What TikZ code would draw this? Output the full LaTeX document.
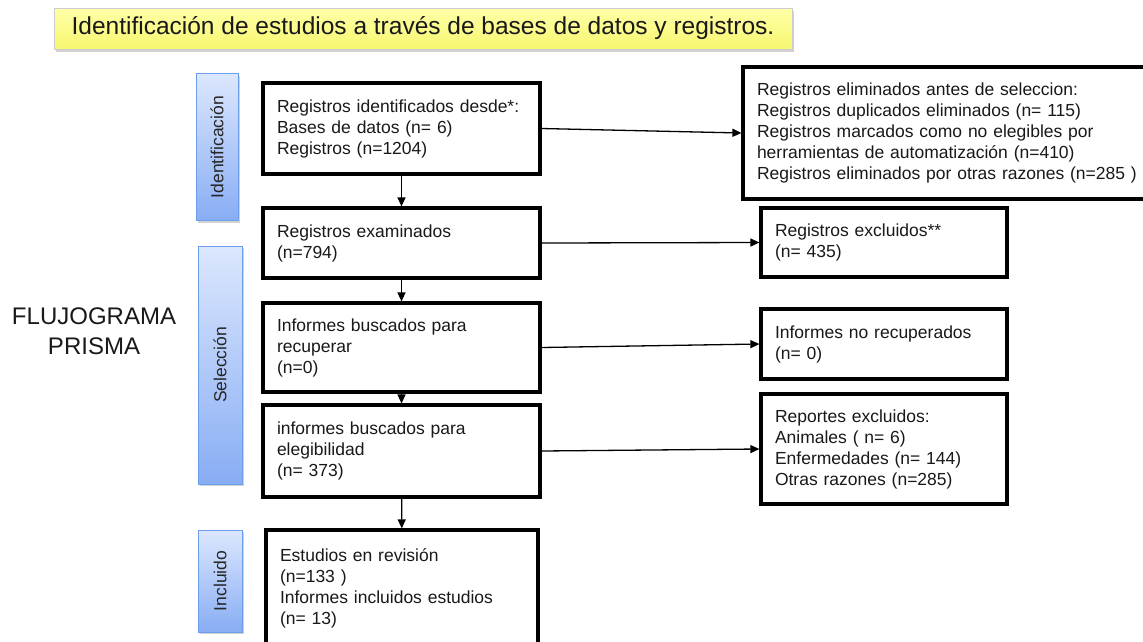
\documentclass[tikz,border=0pt]{standalone}
\usepackage{fontspec}
\setmainfont{Liberation Sans}
\usetikzlibrary{arrows.meta,shadows}
\definecolor{barfill1}{HTML}{DCE7FD}
\definecolor{barfill2}{HTML}{88ADF4}
\definecolor{barline}{HTML}{6D9EEB}
\definecolor{ban1}{HTML}{FFFFA8}
\definecolor{ban2}{HTML}{F7F770}
\tikzset{
  mainbox/.style={draw=black, line width=3.2pt, fill=white, inner xsep=14pt, inner ysep=4pt,
    align=left, font=\fontsize{17.5}{21}\selectfont, text width=#1, minimum height=10pt,
    text=black!90},
  sidebar/.style={draw=barline, line width=1pt, top color=barfill1, bottom color=barfill2,
    drop shadow={shadow xshift=1.5pt, shadow yshift=-2pt, opacity=0.35},
    font=\fontsize{17.5}{21}\selectfont, text=black!85},
  arr/.style={draw=black, line width=1.3pt, -{Triangle[length=9pt,width=8pt]}},
}
\begin{document}
\begin{tikzpicture}[x=1pt,y=-1pt]
\useasboundingbox[fill=white] (0,0) rectangle (1143,641);
% banner
\node[draw=black!20, line width=0.6pt, top color=ban1, bottom color=ban2,
  drop shadow={shadow xshift=2pt, shadow yshift=-2.5pt, opacity=0.35},
  minimum width=738pt, minimum height=41pt, inner sep=0pt,
  font=\fontsize{24.5}{28}\selectfont, text=black!90] (banner) at (423,28.5)
  {Identificación de estudios a través de bases de datos y registros.};
% title
\node[align=center, font=\fontsize{24}{29.5}\selectfont, text=black!90] (title) at (94,331)
  {FLUJOGRAMA\\PRISMA};
% side bars
\node[sidebar, minimum width=42pt, minimum height=147pt, inner sep=0pt] (s1) at (217,147)
  {\rotatebox{90}{Identificación}};
\node[sidebar, minimum width=44pt, minimum height=238pt, inner sep=0pt] (s2) at (220,365)
  {\rotatebox{90}{Selección}};
\node[sidebar, minimum width=44pt, minimum height=102pt, inner sep=0pt] (s3) at (220,581)
  {\rotatebox{90}{Incluido}};
% main boxes
\node[mainbox=249pt, minimum height=91pt] (b1) at (401.5,128.5)
  {Registros identificados desde*:\\Bases de datos (n= 6)\\Registros (n=1204)};
\node[mainbox=249pt, minimum height=70pt] (b2) at (401.5,243)
  {Registros examinados\\(n=794)};
\node[mainbox=249pt, minimum height=89pt] (b3) at (401.5,347.5)
  {Informes buscados para\\recuperar\\(n=0)};
\node[mainbox=249pt, minimum height=92pt] (b4) at (401.5,451)
  {informes buscados para\\elegibilidad\\(n= 373)};
\node[mainbox=244pt, minimum height=116pt] (b5) at (402,588)
  {Estudios en revisión\\(n=133 )\\Informes incluidos estudios\\(n= 13)};
% right boxes
\node[mainbox=390pt, minimum height=132pt, inner xsep=14pt] (r1) at (952,133)
  {Registros eliminados antes de seleccion:\\Registros duplicados eliminados (n= 115)\\Registros marcados como no elegibles por\\herramientas de automatización (n=410)\\Registros eliminados por otras razones (n=285 )};
\node[mainbox=218pt, minimum height=69pt] (r2) at (884,242.5)
  {Registros excluidos**\\(n= 435)};
\node[mainbox=218pt, minimum height=70pt] (r3) at (884,344)
  {Informes no recuperados\\(n= 0)};
\node[mainbox=218pt, minimum height=110pt] (r4) at (884,449)
  {Reportes excluidos:\\Animales ( n= 6)\\Enfermedades (n= 144)\\Otras razones (n=285)};
% connectors
\draw[arr] (b1) -- (b2);
\draw[arr] (b2) -- (b3);
\draw[arr] (b3) -- (b4);
\draw[arr] (b4) -- (b5);
\draw[arr] (b1.east) -- (r1.west);
\draw[arr] (b2.east) -- (r2.west);
\draw[arr] (b3.east) -- (r3.west);
\draw[arr] (b4.east) -- (r4.west);
\end{tikzpicture}
\end{document}
